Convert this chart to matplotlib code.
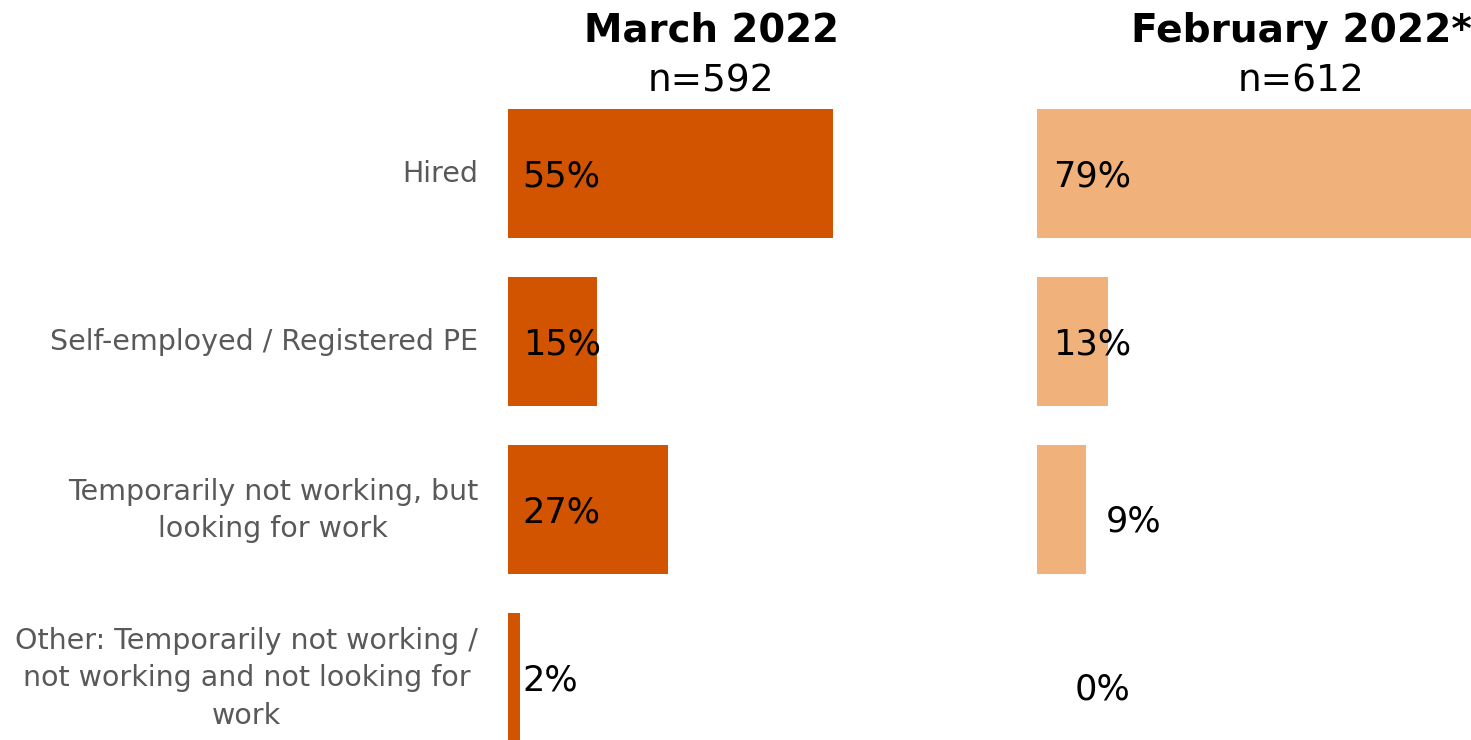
import matplotlib
matplotlib.use("Agg")
import matplotlib.pyplot as plt

categories = ["Hired", "Self-employed / Registered PE",
              "Temporarily not working, but\nlooking for work",
              "Other: Temporarily not working /\nnot working and not looking for\nwork"]
march_2022 = [55, 15, 27, 2]
february_2022 = [79, 13, 9, 0]
title_march = "March 2022"
sub_march = "n=592"
title_feb = "February 2022*"
sub_feb = "n=612"

W, H = 1471, 740
fig = plt.figure(figsize=(W / 100, H / 100), dpi=100)
fig.patch.set_facecolor("white")

FONT = "DejaVu Sans"
px_unit = 168.0
y0 = 173.5
ylim = ((H - y0) / px_unit, -y0 / px_unit)
bar_h = 129 / px_unit

def make_ax(left_px, width_px, xmax):
    ax = fig.add_axes([left_px / W, 0, width_px / W, 1])
    ax.set_xlim(0, xmax)
    ax.set_ylim(*ylim)
    ax.axis("off")
    return ax

ax1 = make_ax(508, 60 * 5.91, 60)
ax2 = make_ax(1037, 434, 79)

ys = list(range(len(categories)))
ax1.barh(ys, march_2022, height=bar_h, color="#D35400")
ax2.barh(ys, february_2022, height=bar_h, color="#F0B27A")

VFS = 25.3
for y, v in zip(ys, march_2022):
    ax1.text(2.5, y + 0.02, f"{v}%", fontsize=VFS, family=FONT, color="black",
             va="center", ha="left")

for y, v in zip(ys, february_2022):
    if v >= 10:
        x, dy = 2.9, 0.02
    elif v > 0:
        x, dy = v + 3.6, 0.07
    else:
        x, dy = 6.9, 0.07
    ax2.text(x, y + dy, f"{v}%", fontsize=VFS, family=FONT, color="black",
             va="center", ha="left")

for y, c in zip(ys, categories):
    fig.text(478 / W, 1 - (y0 + y * px_unit + 1) / H, c, fontsize=20.5, family=FONT,
             color="#595959", ha="right", va="center", multialignment="center",
             linespacing=1.45)

fig.text(711 / W, 1 - 31 / H, title_march, fontsize=27.8, fontweight="bold",
         family=FONT, ha="center", va="center")
fig.text(711 / W, 1 - 81 / H, sub_march, fontsize=27, family=FONT,
         ha="center", va="center")
fig.text(1301 / W, 1 - 31 / H, title_feb, fontsize=28.2, fontweight="bold",
         family=FONT, ha="center", va="center")
fig.text(1301 / W, 1 - 81 / H, sub_feb, fontsize=27, family=FONT,
         ha="center", va="center")

fig.savefig("out.png", dpi=100, facecolor="white")
